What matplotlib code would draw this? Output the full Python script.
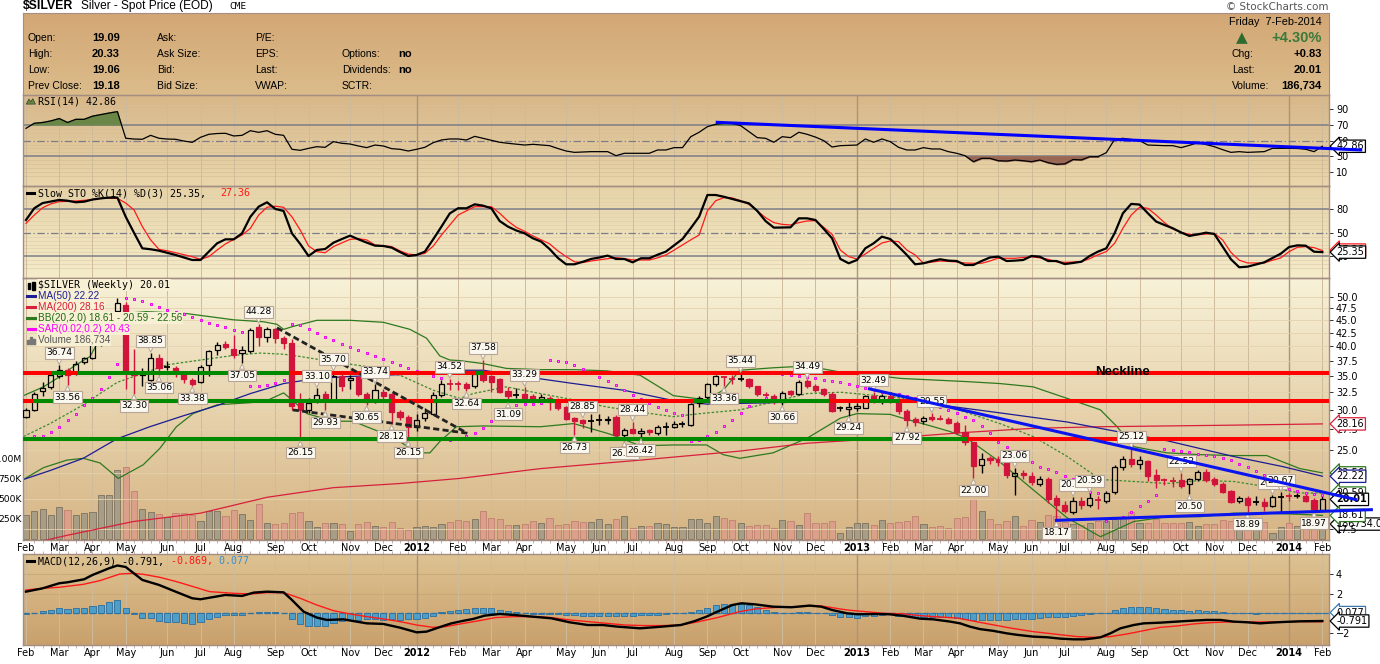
import numpy as np
import pandas as pd
import matplotlib
matplotlib.use("Agg")
import matplotlib.pyplot as plt
from matplotlib.colors import LinearSegmentedColormap
from matplotlib.lines import Line2D
from matplotlib.patches import Rectangle, Polygon
from matplotlib.transforms import blended_transform_factory

# ---------------- data (weekly, 11-Feb-2011 .. 7-Feb-2014) ----------------
weeks = pd.date_range("2011-02-11", periods=157, freq="7D")
prior_close = 29.2

opens = [29.1, 30.0, 32.7, 33.3, 34.9, 35.9, 35.6, 37.3, 37.9, 40.5, 42.8, 46.9, 48.2, 35.7, 35.2, 34.4, 37.9, 36.3, 36.3, 35.4,
         34.4, 34.1, 36.7, 39.3, 40.5, 39.6, 38.8, 39.1, 43.7, 41.8, 43.3, 41.6, 40.7, 30.9, 30.0, 31.4, 32.2, 31.4, 34.9, 34.3,
         34.8, 32.3, 31.3, 32.6, 32.2, 29.7, 29.1, 27.8, 28.9, 29.5, 32.1, 33.9, 33.8, 33.7, 33.4, 35.5, 34.9, 34.5, 32.7, 32.1,
         32.3, 31.9, 31.5, 31.7, 31.4, 30.4, 28.9, 28.7, 28.5, 28.6, 28.6, 29.1, 26.8, 27.5, 27.0, 27.4, 27.0, 27.7, 27.8, 28.1,
         28.0, 30.9, 31.8, 33.7, 34.8, 34.6, 34.5, 34.5, 33.4, 32.1, 31.9, 31.1, 32.7, 32.3, 34.2, 33.5, 33.0, 32.3, 30.25, 30.1,
         30.3, 30.3, 32.0, 31.2, 32.0, 31.5, 29.8, 28.8, 28.5, 29.1, 28.9, 28.8, 28.3, 27.2, 25.9, 23.4, 24.1, 24.0, 23.7, 22.2,
         22.5, 22.2, 21.5, 21.9, 20.1, 19.5, 18.9, 19.9, 19.5, 20.0, 19.9, 20.7, 23.2, 24.0, 23.5, 23.8, 22.3, 21.85, 21.8, 21.8,
         21.5, 21.9, 22.6, 21.9, 21.5, 20.8, 19.9, 20.1, 19.7, 19.8, 19.4, 20.2, 20.3, 20.3, 20.3, 19.95, 19.09]
highs = [30.3, 32.6, 34.0, 35.4, 36.74, 36.2, 37.4, 38.2, 41.0, 43.0, 46.8, 49.8, 48.8, 39.5, 36.2, 38.85, 38.6, 37.4, 36.6, 35.8,
         34.6, 36.8, 39.4, 40.8, 41.0, 42.2, 40.0, 43.4, 44.28, 43.7, 43.4, 42.0, 41.3, 32.4, 31.6, 33.10, 32.7, 35.70, 35.4, 35.2,
         35.0, 32.6, 33.74, 33.0, 32.4, 30.0, 29.3, 29.5, 30.2, 32.5, 34.3, 34.52, 34.2, 34.0, 35.6, 37.58, 35.2, 34.7, 33.3, 33.2,
         33.29, 32.3, 32.2, 31.9, 31.6, 30.6, 29.1, 28.85, 29.4, 29.4, 29.2, 29.3, 27.6, 28.44, 27.6, 27.5, 28.0, 28.4, 28.5, 28.5,
         31.0, 31.9, 33.9, 35.2, 35.0, 35.1, 35.44, 34.6, 33.5, 32.5, 32.3, 32.7, 32.9, 34.3, 34.49, 33.8, 33.2, 32.5, 30.6, 31.2,
         31.0, 32.1, 32.49, 32.2, 32.3, 31.6, 30.1, 29.1, 29.2, 29.55, 29.3, 29.0, 28.5, 28.0, 26.0, 24.7, 24.3, 24.4, 23.9, 23.06,
         22.9, 22.6, 22.2, 22.1, 20.4, 19.9, 20.23, 20.2, 20.59, 20.3, 20.8, 23.4, 24.3, 25.12, 24.4, 23.9, 23.0, 22.0, 22.1, 22.52,
         22.0, 22.9, 23.0, 22.1, 21.6, 20.9, 20.3, 20.3, 20.3, 20.1, 20.40, 20.67, 20.6, 20.6, 20.5, 20.1, 20.33]
lows = [28.9, 29.9, 32.0, 33.0, 34.6, 33.56, 35.2, 36.9, 37.8, 40.0, 42.5, 46.0, 33.0, 32.30, 33.4, 34.2, 35.06, 35.9, 34.8, 33.9,
        33.38, 33.9, 34.9, 38.5, 39.5, 37.9, 37.05, 38.8, 40.1, 40.8, 40.6, 39.5, 30.0, 26.15, 29.6, 30.9, 29.93, 31.2, 32.7, 33.0,
        31.9, 30.65, 31.0, 31.5, 28.12, 28.7, 26.15, 27.3, 28.5, 29.3, 31.8, 32.9, 32.9, 32.64, 33.2, 34.1, 32.6, 32.4, 31.09, 31.6,
        30.9, 31.0, 31.2, 30.0, 30.0, 28.6, 26.73, 27.6, 27.2, 28.0, 28.2, 26.6, 26.07, 26.9, 26.42, 26.8, 26.8, 26.8, 27.6, 27.8,
        27.9, 30.4, 31.5, 33.5, 33.36, 33.8, 34.2, 33.2, 31.9, 31.6, 30.8, 30.66, 31.9, 32.1, 33.2, 32.5, 31.9, 29.7, 29.9, 29.24,
        29.9, 30.2, 31.0, 30.8, 31.0, 29.5, 27.92, 27.9, 28.2, 28.5, 28.6, 28.1, 26.9, 25.6, 22.00, 22.5, 23.5, 23.3, 22.0, 20.4,
        21.9, 21.4, 21.3, 19.7, 18.17, 18.8, 18.7, 19.2, 19.3, 19.2, 19.7, 20.5, 22.9, 23.2, 23.0, 21.7, 21.1, 21.4, 21.2, 21.1,
        20.50, 21.7, 21.6, 21.3, 20.6, 19.7, 19.7, 18.89, 19.5, 19.0, 19.3, 18.9, 19.9, 20.1, 19.8, 18.97, 19.06]
closes = [30.0, 32.3, 33.1, 35.1, 35.9, 35.2, 37.0, 37.9, 40.4, 42.8, 46.1, 48.6, 35.4, 35.2, 35.6, 37.9, 36.3, 36.4, 35.4, 34.5,
          33.7, 36.5, 39.1, 40.2, 39.9, 38.5, 39.3, 43.1, 41.8, 43.3, 41.5, 40.7, 30.6, 30.0, 31.0, 32.1, 31.3, 34.9, 33.4, 34.7,
          32.3, 31.1, 32.8, 32.0, 29.7, 29.1, 27.8, 28.7, 29.6, 32.1, 33.8, 33.7, 33.6, 33.2, 35.3, 34.4, 34.1, 32.6, 32.0, 32.2,
          31.7, 31.5, 31.8, 31.1, 30.2, 28.8, 28.5, 28.3, 28.6, 28.7, 28.8, 26.8, 27.4, 27.0, 27.3, 27.1, 27.8, 27.85, 28.2, 28.25,
          30.8, 31.6, 33.7, 34.9, 34.7, 34.5, 34.6, 33.4, 32.2, 32.0, 31.3, 32.4, 32.3, 34.1, 33.4, 32.9, 32.3, 29.9, 30.35, 30.4,
          30.6, 31.9, 31.3, 31.9, 31.4, 29.9, 28.7, 28.4, 28.9, 28.8, 28.75, 28.3, 27.2, 25.9, 23.3, 24.0, 23.9, 23.7, 22.3, 22.5,
          22.3, 21.6, 21.9, 20.0, 19.5, 19.0, 19.9, 19.5, 20.1, 19.9, 20.6, 23.2, 24.0, 23.5, 23.9, 22.2, 21.8, 21.75, 21.7, 21.3,
          21.9, 22.6, 21.8, 21.5, 20.7, 19.8, 20.1, 19.5, 19.8, 19.4, 20.2, 20.3, 20.25, 20.4, 19.9, 19.18, 20.01]
volume_k = [300, 350, 371, 300, 396, 362, 300, 321, 333, 550, 550, 862, 896, 604, 375, 333, 308, 279, 321, 329,
            300, 225, 350, 350, 287, 362, 308, 237, 433, 196, 183, 196, 321, 333, 225, 146, 204, 204, 183, 104,
            183, 208, 162, 146, 217, 133, 112, 146, 167, 146, 185, 208, 233, 225, 250, 354, 258, 250, 175, 175,
            187, 225, 196, 267, 175, 187, 225, 208, 208, 250, 183, 250, 287, 133, 162, 162, 196, 183, 146, 146,
            250, 250, 196, 287, 258, 237, 196, 167, 175, 175, 133, 237, 225, 175, 321, 196, 196, 229, 71, 154,
            196, 196, 175, 237, 204, 217, 225, 287, 187, 146, 167, 133, 258, 271, 496, 354, 250, 187, 229, 287,
            167, 237, 208, 300, 287, 208, 183, 175, 204, 229, 229, 258, 271, 342, 204, 204, 246, 204, 204, 196,
            208, 162, 183, 183, 237, 229, 133, 229, 146, 208, 71, 146, 196, 167, 196, 229, 187]
sar = [26.3, 26.6, 26.7, 27.2, 27.8, 28.7, 29.5, 30.7, 31.6, 33.0, 34.8, 37.0, 49.8, 49.6, 49.1, 48.4, 47.7, 47.1, 46.8, 46.3,
       45.6, 45.1, 44.5, 44.1, 43.6, 43.1, 42.6, 33.38, 33.4, 33.6, 33.9, 34.3, 44.28, 44.0, 43.3, 42.5, 41.8, 41.1, 40.4, 39.8,
       39.3, 38.8, 38.3, 37.8, 37.2, 36.7, 36.2, 35.8, 35.4, 35.0, 34.6, 26.15, 26.4, 26.7, 27.0, 27.6, 28.5, 29.4, 30.2, 30.7,
       30.8, 30.85, 30.9, 37.58, 37.5, 37.2, 36.7, 36.1, 35.4, 34.8, 34.2, 33.6, 32.8, 32.1, 31.5, 30.9, 30.4, 30.0, 29.6, 29.3,
       26.07, 26.2, 26.6, 27.2, 27.9, 28.7, 29.6, 30.5, 31.3, 31.6, 35.44, 35.3, 35.1, 34.9, 34.75, 34.6, 34.4, 34.2, 34.0, 33.7,
       33.4, 33.1, 32.9, 32.6, 32.4, 32.2, 32.0, 31.7, 31.4, 30.8, 30.4, 30.0, 29.6, 29.1, 28.7, 27.9, 27.0, 26.0, 25.4, 24.8,
       24.2, 23.7, 23.2, 23.0, 22.6, 22.2, 21.9, 21.0, 20.7, 20.6, 18.17, 18.4, 18.5, 18.9, 19.4, 19.9, 20.4, 25.12, 25.0, 24.9,
       24.8, 24.6, 24.5, 24.3, 24.1, 23.9, 23.5, 23.2, 22.8, 22.3, 21.9, 21.4, 21.0, 20.8, 20.6, 20.5, 20.43]
rsi = [65.6, 72, 73, 75, 78, 73, 77, 77, 81, 83, 85, 86.8, 53, 52, 51.7, 56.7, 53, 52, 51.7, 49.5,
       47.8, 54.2, 58, 59, 59.3, 55.9, 56.7, 62.6, 60.5, 62.6, 58, 56.7, 39, 37.7, 40.2, 42.3, 41.5, 48.7, 46.6, 45.7,
       43.2, 41.1, 44.4, 43.2, 39.8, 39, 36.8, 39, 41.5, 47.4, 50.8, 52.1, 52.1, 50.8, 55.4, 52.9, 50.5, 47.9, 46.6, 45.5,
       44.4, 45.3, 44.5, 43.6, 40, 36.8, 35.1, 35.5, 36.0, 36.0, 36.0, 30.9, 33.9, 33.9, 33.9, 33.9, 38.1, 38.1, 41.1, 41.1,
       55.0, 60.6, 67.7, 70.7, 71.9, 71.9, 69.0, 61.4, 53.8, 52.9, 47.9, 55.0, 53.8, 60.6, 58.0, 54.5, 50.0, 41.9, 43.6, 44.0,
       44.4, 52.1, 47.9, 52.1, 48.7, 41.5, 38.1, 38.1, 41.1, 39.4, 39.4, 36.0, 33.9, 30.9, 23.3, 27.5, 27.5, 24.5, 24.1, 25.4,
       24.5, 23.3, 25.4, 22.0, 19.9, 20.5, 26.0, 25.5, 29.6, 29.6, 34.7, 51.6, 52.9, 51.5, 50.0, 44.4, 44.0, 43.6, 43.6, 41.1,
       44.0, 47.4, 45.0, 42.3, 38.5, 35.1, 36.0, 35.1, 35.5, 36.0, 40.2, 40.2, 40.2, 40.0, 39.0, 36.0, 42.86]
sto_k = [66.4, 81.4, 88, 90, 92, 91, 89, 89.8, 92.5, 94, 95, 95, 70.5, 50, 30.2, 29.0, 27.2, 24.5, 21.7, 18.5,
         15.3, 15.3, 26.0, 36.6, 41.7, 41.7, 49.4, 70.5, 83.4, 89.0, 80.5, 77.9, 49.4, 35.8, 20.4, 28.1, 29.3, 37.4, 42.0, 46.4,
         41.7, 37.5, 33.6, 33.2, 31.1, 25.5, 20.4, 21.7, 26.0, 41.7, 58.0, 74.8, 81.4, 81.3, 86.4, 84.7, 81.3, 65.1, 57.9, 53.0,
         49.4, 43.0, 38.7, 29.4, 18.0, 9.8, 9.8, 13.0, 16.6, 18.5, 20.9, 16.6, 16.6, 12.3, 17.5, 17.5, 22.0, 26.0, 34.0, 42.1,
         56.0, 70.6, 98.3, 98.3, 96.0, 93.2, 90.5, 87.6, 78.0, 65.0, 56.6, 56.8, 57.0, 68.5, 68.5, 66.4, 55.0, 43.0, 16.6, 11.1,
         15.3, 30.2, 36.6, 45.1, 42.1, 32.4, 21.7, 9.8, 11.1, 14.0, 16.2, 14.5, 14.0, 8.9, 8.9, 14.0, 18.5, 19.6, 14.0, 14.5,
         15.3, 20.4, 19.5, 14.0, 14.0, 10.1, 11.5, 13.1, 20.4, 26.0, 30.2, 49.4, 75.0, 86.9, 86.1, 75.0, 64.4, 60.0, 55.8, 50.5,
         46.0, 48.0, 50.2, 48.5, 32.4, 16.2, 6.0, 6.8, 9.5, 12.3, 17.9, 23.4, 31.9, 34.0, 33.6, 25.9, 25.35]
sto_d = [62.1, 72.7, 82, 87, 89.8, 90.2, 90.7, 91.5, 92.5, 94, 94, 94, 88, 79.3, 58, 40.9, 28.9, 27, 24.6, 22,
         19.5, 16.2, 19.5, 28, 35.8, 41.5, 47.2, 55.7, 72.7, 82.6, 84, 82.6, 70.5, 53.6, 33.2, 26.0, 24.6, 32.4, 37, 41.7,
         42.5, 40.9, 34.5, 33.5, 32.4, 27, 22.9, 21.7, 23.8, 33, 47.2, 60, 72.7, 78, 83.4, 83.4, 83.4, 75, 65, 57,
         52, 46, 41, 36, 27, 19.6, 13, 12, 14.0, 15.5, 17, 18.3, 17, 15.5, 15.3, 15.3, 18, 21.7, 28, 34.5,
         41, 47.2, 78, 91, 95, 94.5, 91, 86.4, 78, 69.4, 63, 60.8, 60.0, 63, 65.1, 65.5, 57, 48.1, 28, 19.6,
         16.6, 23, 30.2, 37, 39.6, 38.7, 28, 21.7, 11.1, 12.5, 14.0, 13.5, 12.8, 11.5, 11.1, 11.1, 14, 17.7, 17.5, 17.5,
         18.5, 19.5, 18, 16.2, 13, 12.3, 12.7, 13.1, 17, 22, 26.0, 36.6, 55.8, 72.7, 82.6, 81.3, 72.7, 63, 55, 50.6,
         48, 47.5, 48.5, 49.4, 40.9, 25, 15, 11.5, 11.5, 11.5, 15, 18, 26.0, 31.5, 32.4, 31.1, 27.36]
macd_hist = [-0.07, 0, 0.24, 0.34, 0.51, 0.41, 0.51, 0.51, 0.75, 0.85, 1.2, 1.37, 0.51, -0.07, -0.51, -0.51, -0.75, -0.85, -0.85, -1.03,
             -1.09, -0.85, -0.62, -0.41, -0.17, -0.17, -0.17, 0.07, 0.1, 0.14, 0.14, 0.03, -0.62, -1.13, -1.3, -1.3, -1.3, -0.96, -0.79, -0.68,
             -0.68, -0.62, -0.62, -0.68, -0.62, -0.68, -0.62, -0.62, -0.51, -0.27, 0.17, 0.27, 0.35, 0.48, 0.58, 0.58, 0.58, 0.38, 0.24, 0.17,
             0.03, -0.03, -0.05, -0.07, -0.1, -0.14, -0.2, -0.3, -0.3, -0.3, -0.27, -0.27, -0.27, -0.24, -0.2, -0.2, -0.14, -0.03, 0, 0.03,
             0.1, 0.31, 0.55, 0.82, 0.92, 0.99, 0.99, 0.89, 0.65, 0.38, 0.14, 0.03, 0.0, 0.1, 0.14, 0.05, 0, -0.2, -0.38, -0.34,
             -0.48, -0.31, -0.24, -0.17, -0.1, -0.24, -0.3, -0.34, -0.34, -0.36, -0.38, -0.41, -0.48, -0.55, -0.68, -0.68, -0.68, -0.68, -0.68, -0.62,
             -0.58, -0.58, -0.48, -0.41, -0.41, -0.41, -0.27, -0.2, -0.07, 0, 0.03, 0.34, 0.55, 0.68, 0.68, 0.68, 0.55, 0.44, 0.34, 0.34,
             0.24, 0.34, 0.27, 0.27, 0.17, 0.03, 0, 0, -0.07, 0, 0.03, 0.07, 0.07, 0.07, 0.07, 0.07, 0.077]

# smooth indicator lines, read as (week index, value) points
ma50_wk = [-0.3, 2.9, 6.9, 10.9, 14.9, 18.9, 23, 27, 31, 35, 39, 45, 52.2, 55, 59.9, 65.9, 71.9, 77.9, 81.9, 89.9, 98, 104,
           109.2, 117.2, 125.3, 131.3, 137.3, 145.3, 151.3, 156]
ma50_val = [21.9, 22.8, 24.1, 26.3, 27.8, 29.2, 30.6, 32.3, 33.8, 34.6, 34.9, 35.2, 35.9, 35.9, 34.9, 33.8, 32.8, 31.3, 30.8, 31.0,
            31.4, 31.4, 30.8, 29.6, 28.4, 27.2, 26.1, 24.3, 23.2, 22.22]
ma200_wk = [-0.4, 2.1, 4.9, 12.9, 21, 29, 37, 45, 52.2, 61.9, 73.9, 85.9, 94, 105.2, 113.2, 121.2, 129.3, 137.3, 145.3, 156]
ma200_val = [16.1, 16.6, 17.0, 18.1, 18.8, 20.2, 21.1, 21.5, 22.0, 23.0, 23.9, 24.9, 25.8, 26.5, 27.1, 27.6, 27.8, 27.9, 28.0, 28.16]
bbu_wk = [-0.3, 2.1, 4.1, 5.7, 7.7, 8.5, 10, 11.7, 14.5, 19.3, 25, 28.6, 30.2, 31, 32.2, 35, 39, 43, 46.2, 48.2, 49.8, 51, 52.2,
          55, 57.8, 61.9, 65.9, 69.9, 73.9, 77.9, 81.9, 83.9, 85.9, 89.9, 94, 98, 102, 105.2, 113.2, 117.2, 121.2, 125.3, 129.3,
          131.3, 133.3, 137.3, 141.3, 145.3, 149.3, 153.3, 156]
bbu_val = [32.0, 33.3, 34.9, 36.5, 38.2, 40.3, 45.0, 46.4, 46.8, 46.4, 45.1, 44.7, 44.2, 43.2, 43.8, 45.0, 45.0, 44.6, 43.2, 41.5,
           38.3, 37.6, 37.5, 37.0, 36.2, 36.0, 36.0, 35.8, 35.1, 32.0, 31.4, 32.8, 35.9, 36.3, 36.6, 35.6, 35.1, 34.6, 34.1, 33.8,
           33.3, 31.6, 30.0, 27.8, 25.4, 24.7, 24.5, 24.4, 24.4, 23.0, 22.56]
bbl_wk = [-0.3, 2.1, 4.9, 6.9, 8.9, 11.1, 14.1, 16.1, 18.1, 20.1, 23, 27, 29, 31, 32.2, 33.8, 37, 39.4, 41, 43, 45, 47, 48.6,
          49.8, 51.8, 55, 61.9, 65.9, 69.9, 71.1, 73.9, 77.9, 81.9, 83.9, 85.9, 89.9, 94, 98, 100, 104, 105.2, 109.2, 111.2, 113.2,
          117.2, 121.2, 125.3, 129.3, 133.3, 137.3, 141.3, 145.3, 149.3, 153.3, 156]
bbl_val = [21.9, 23.1, 23.9, 24.1, 23.6, 22.0, 23.4, 25.2, 27.8, 29.5, 30.7, 31.0, 31.3, 32.4, 31.2, 29.5, 28.5, 28.5, 27.8, 27.0,
           26.0, 24.7, 24.7, 26.0, 27.8, 27.9, 27.8, 28.2, 27.0, 26.6, 25.5, 25.6, 25.6, 24.5, 24.1, 24.7, 26.4, 28.9, 29.5, 29.4,
           29.0, 27.8, 27.2, 26.4, 23.7, 20.9, 18.4, 16.9, 18.1, 18.5, 18.5, 18.8, 18.8, 18.7, 18.61]
bbm_wk = [-0.3, 2.9, 6.9, 8.9, 11, 14.5, 17, 21, 25, 28.2, 31, 33, 37, 41, 45, 49, 52.2, 53.8, 57.8, 61.9, 65.9, 69.9, 73.9,
          77.9, 81.1, 85.9, 89.9, 94, 98, 105.2, 111.2, 117.2, 121.2, 125.3, 129.3, 133.3, 137.3, 141.3, 145.3, 149.3, 153.3, 156]
bbm_val = [26.6, 28.2, 30.7, 32.3, 34.0, 35.6, 36.8, 37.6, 38.4, 38.8, 38.6, 38.2, 37.3, 36.5, 35.1, 32.8, 31.6, 32.3, 33.3, 32.3,
           31.4, 30.4, 29.7, 29.1, 29.5, 30.0, 31.1, 32.3, 32.5, 31.7, 30.4, 28.2, 26.6, 24.3, 21.9, 21.7, 21.5, 21.8, 21.7, 21.2,
           20.6, 20.59]
macd_wk = [0, 2, 4, 5, 7, 8, 9, 10, 11, 12, 14, 16, 18, 20, 21, 24, 26, 27.4, 29, 31, 32, 33.4, 35, 36.2, 38.2, 41, 43, 45, 47,
           48.2, 50.2, 51.2, 52.5, 53.8, 55.2, 57, 58.7, 60.9, 63.2, 65.4, 67.6, 69.4, 71.2, 73.9, 76.5, 78.8, 80.5, 81.9, 83.2,
           85, 86.1, 87.7, 89.9, 92.1, 94.3, 95.7, 97, 98.8, 100.1, 102.4, 103.9, 105.5, 107.6, 109.2, 111.2, 112.4, 113.6, 114.8,
           116.4, 118, 119.2, 121.2, 122.9, 124.5, 126.1, 127.3, 128.5, 129.3, 130.5, 131.7, 133.3, 134.5, 136.5, 138.5, 140.5,
           142.1, 143.7, 145.3, 146.9, 148.5, 149.7, 151.3, 153.3, 156]
macd_val = [2.22, 2.56, 3.08, 3.18, 3.49, 3.93, 4.27, 4.62, 4.9, 4.75, 3.42, 2.91, 2.22, 1.54, 1.44, 1.88, 1.78, 2.12, 2.22, 2.15,
            1.37, 0.17, -0.44, -0.68, -0.62, -1.03, -1.09, -1.47, -1.95, -1.88, -1.3, -1.03, -0.79, -0.58, -0.24, -0.07, -0.17,
            -0.34, -0.51, -0.92, -1.2, -1.2, -1.37, -1.54, -1.37, -1.2, -0.79, -0.34, 0.17, 0.85, 1.03, 0.92, 0.68, 0.62, 0.79,
            0.68, 0.34, 0, -0.1, -0.07, -0.1, -0.25, -0.55, -0.62, -0.85, -1.03, -1.37, -1.62, -1.8, -2.05, -2.2, -2.39, -2.46,
            -2.6, -2.67, -2.67, -2.56, -2.46, -2.05, -1.54, -1.2, -1.03, -0.96, -0.85, -0.75, -0.68, -0.68, -0.85, -0.92, -1.03,
            -0.96, -0.89, -0.82, -0.791]
signal_wk = [0, 2, 4, 6.9, 8.9, 11.3, 12.9, 14.1, 16.1, 18.1, 20.1, 22.1, 25, 27, 29, 31, 33, 35, 37, 39, 41, 43, 45, 47, 49,
             50.5, 52, 54.3, 56.5, 58.7, 61.4, 63.2, 65.4, 67.6, 69.9, 72.1, 74.3, 76.5, 78.8, 81, 83.2, 85.9, 87.7, 89.9, 92.1,
             94.3, 95.7, 97, 98.8, 101, 103.2, 105.5, 107.7, 110, 112.2, 114.6, 116.5, 118.4, 121.2, 123.7, 126.5, 128.5, 130.5,
             132.5, 134.5, 136.5, 138.5, 140.5, 142.5, 144.5, 146.9, 149.3, 151.3, 153.3, 156]
signal_val = [2.39, 2.56, 2.67, 2.97, 3.35, 4.03, 4.10, 4.0, 3.69, 3.25, 2.74, 2.22, 2.05, 1.98, 2.12, 2.12, 1.54, 0.85, 0.27,
              -0.07, -0.34, -0.58, -0.85, -1.2, -1.44, -1.37, -1.13, -0.79, -0.44, -0.34, -0.34, -0.44, -0.68, -0.85, -1.03, -1.2,
              -1.26, -1.26, -1.2, -0.85, -0.44, 0.17, 0.44, 0.58, 0.65, 0.75, 0.75, 0.58, 0.34, 0.17, 0, -0.05, -0.25, -0.38, -0.5,
              -0.9, -1.2, -1.5, -1.88, -2.12, -2.39, -2.46, -2.39, -2.12, -1.78, -1.44, -1.3, -1.09, -0.96, -0.89, -0.89, -0.89,
              -0.89, -0.85, -0.869]

# price labels on swing highs / lows: (week, value, above?)
swing_labels = [(4, 36.74, True), (15, 38.85, True), (28, 44.28, True), (35, 33.10, True), (37, 35.70, True), (42, 33.74, True),
                (51, 34.52, True), (55, 37.58, True), (60, 33.29, True), (67, 28.85, True), (73, 28.44, True), (86, 35.44, True),
                (94, 34.49, True), (102, 32.49, True), (109, 29.55, True), (119, 23.06, True), (126, 20.23, True), (128, 20.59, True),
                (133, 25.12, True), (139, 22.52, True), (150, 20.40, True), (151, 20.67, True),
                (5, 33.56, False), (13, 32.30, False), (16, 35.06, False), (20, 33.38, False), (26, 37.05, False), (33, 26.15, False),
                (36, 29.93, False), (41, 30.65, False), (44, 28.12, False), (46, 26.15, False), (53, 32.64, False), (58, 31.09, False),
                (66, 26.73, False), (72, 26.07, False), (74, 26.42, False), (84, 33.36, False), (91, 30.66, False), (99, 29.24, False),
                (106, 27.92, False), (114, 22.00, False), (124, 18.17, False), (140, 20.50, False), (147, 18.89, False), (155, 18.97, False)]

# hand-drawn annotation lines
level_prices = [35.5, 31.2, 26.3]
green_spans = [[(3.1, 4.7), (6.1, 31.8), (54.0, 55.0)],
               [(0.9, 44.0), (49.0, 63.7), (80.3, 96.8), (101.6, 105.2)],
               [(-0.4, 113.2)]]
rsi_trend = ([83.0, 160.8], [73.3, 38.1])
upper_trend = ([101.5, 160.0], [33.0, 20.0])
lower_trend = ([124.0, 161.9], [18.2, 19.1])
dash_a = ([30.2, 53.1], [43.5, 27.0])
dash_b = ([32.1, 53.1], [30.0, 27.0])

# ---------------- layout ----------------
W, H = 1380.0, 664.0
XL, XR = 23, 1329
x_lo, x_hi = -0.36, 156.8
idx = np.arange(len(closes))

fig = plt.figure(figsize=(W / 100, H / 100), dpi=100, facecolor="white")
SANS = "Liberation Sans"
MONO = "DejaVu Sans Mono"
BORDER = "#a48e82"
RED = "#d2143c"


def rect(y0, y1, x0=XL, x1=XR):
    return [x0 / W, 1 - y1 / H, (x1 - x0) / W, (y1 - y0) / H]


def gradient(y0, y1, top, bot):
    a = fig.add_axes(rect(y0, y1), zorder=0)
    cm = LinearSegmentedColormap.from_list("bg", [bot, top])
    a.imshow(np.linspace(0, 1, 256)[:, None], cmap=cm, origin="lower", aspect="auto", extent=[0, 1, 0, 1])
    a.set_xlim(0, 1)
    a.set_ylim(0, 1)
    a.axis("off")
    return a


def panel(y0, y1, z=2):
    a = fig.add_axes(rect(y0, y1), zorder=z)
    a.patch.set_alpha(0)
    a.set_xlim(x_lo, x_hi)
    for s in a.spines.values():
        s.set_color(BORDER)
        s.set_linewidth(1)
    a.yaxis.tick_right()
    a.tick_params(axis="y", which="both", length=3, width=0.7, labelsize=7, pad=2, color="#333333")
    a.tick_params(axis="x", which="both", bottom=False, top=False, labelbottom=False)
    return a


def px(x, y):
    return x / W, 1 - y / H


def T(x, y, s, **kw):
    kw.setdefault("va", "center")
    fig.text(*px(x, y), s, **kw)


# month ticks: bar whose Monday falls in a new month
mondays = weeks - pd.Timedelta(days=4)
tick_idx, tick_lab = [], []
prev_m = None
for k, d in enumerate(mondays):
    if d.month != prev_m:
        tick_idx.append(k)
        tick_lab.append(str(d.year) if d.month == 1 else d.strftime("%b"))
    prev_m = d.month


def vgrid(a):
    for k, lab in zip(tick_idx, tick_lab):
        yr = lab.isdigit()
        a.axvline(k, color="#a8967c" if yr else "#cdbb9c", lw=1.0 if yr else 0.7, zorder=0.3)


# ---------------- header ----------------
gradient(13, 95, "#d2a775", "#dcbc8b")
hb = fig.add_axes(rect(13, 95), zorder=1)
hb.patch.set_alpha(0)
hb.set_xticks([])
hb.set_yticks([])
for s in hb.spines.values():
    s.set_color(BORDER)

T(23, 6, "$SILVER", fontsize=8.8, fontweight="bold", family=SANS)
T(81, 6.5, "Silver - Spot Price (EOD)", fontsize=8.6, family=SANS)
T(229, 6.5, "CME", fontsize=6.8, family=MONO)
T(1329, 6.5, "\u00a9 StockCharts.com", fontsize=7.5, family="DejaVu Sans", ha="right", color="#555555")

for col_x, rows in [(28, ["Open:", "High:", "Low:", "Prev Close:"]),
                    (157, ["Ask:", "Ask Size:", "Bid:", "Bid Size:"]),
                    (255, ["P/E:", "EPS:", "Last:", "VWAP:"])]:
    for r, s in enumerate(rows):
        T(col_x, 38 + 16 * r, s, fontsize=7.5, family=SANS)
for r, s in enumerate(["19.09", "20.33", "19.06", "19.18"]):
    T(120, 38 + 16 * r, s, fontsize=8, family=SANS, fontweight="bold", ha="right")
T(342, 54, "Options:", fontsize=7.5, family=SANS)
T(342, 70, "Dividends:", fontsize=7.5, family=SANS)
T(342, 86, "SCTR:", fontsize=7.5, family=SANS)
T(398, 54, "no", fontsize=8, family=SANS, fontweight="bold")
T(398, 70, "no", fontsize=8, family=SANS, fontweight="bold")

T(1322, 22, "Friday  7-Feb-2014", fontsize=7.8, family=SANS, ha="right")
T(1242, 38, "\u25b2", fontsize=11, color="#2f6b2f", ha="center", family="DejaVu Sans")
T(1322, 38, "+4.30%", fontsize=10.5, family=SANS, fontweight="bold", ha="right", color="#3a7a3a")
for r, (a_, b_) in enumerate([("Chg:", "+0.83"), ("Last:", "20.01"), ("Volume:", "186,734")]):
    T(1232, 54 + 16 * r, a_, fontsize=7.5, family=SANS)
    T(1322, 54 + 16 * r, b_, fontsize=8, family=SANS, fontweight="bold", ha="right")


def tag(a, y, s, ec, bold=False, fc="white", coords="data"):
    a.annotate(s, xy=(1.0, y), xycoords=("axes fraction", coords), xytext=(5.5, 0), textcoords="offset points",
               ha="left", va="center", fontsize=7, family="DejaVu Sans", fontweight="bold" if bold else "normal",
               bbox=dict(boxstyle="larrow,pad=0.12", fc=fc, ec=ec, lw=0.9), annotation_clip=False, zorder=30)


# ---------------- RSI ----------------
gradient(95, 186, "#d8b687", "#e9d6ab")
ax_rsi = panel(95, 186)
ax_rsi.set_ylim(-7.6, 107.9)
vgrid(ax_rsi)
for v in range(5, 100, 5):
    if v not in (30, 50, 70):
        ax_rsi.axhline(v, color="#d6c09a", lw=0.5, zorder=0.2)
ax_rsi.axhline(70, color="#7d7d8a", lw=1.1, zorder=0.5)
ax_rsi.axhline(30, color="#7d7d8a", lw=1.1, zorder=0.5)
ax_rsi.axhline(50, color="#7d7d8a", lw=0.9, ls=(0, (6, 2, 1, 2)), zorder=0.5)
rsi_a = np.array(rsi)
ax_rsi.fill_between(idx, rsi_a, 70, where=rsi_a > 70, interpolate=True, color="#6b8748", zorder=1)
ax_rsi.fill_between(idx, rsi_a, 30, where=rsi_a < 30, interpolate=True, color="#9a6754", zorder=1)
ax_rsi.plot(idx, rsi_a, color="black", lw=0.9, zorder=2)
ax_rsi.set_yticks([10, 30, 50, 70, 90])
ax_rsi.plot(*rsi_trend, color="#0000ff", lw=2.2, zorder=40, clip_on=False, solid_capstyle="butt")
tag(ax_rsi, 42.86, "42.86", "black")
ax_rsi.add_patch(Polygon([[0.0025, 0.90], [0.0045, 0.955], [0.006, 0.925], [0.0075, 0.96], [0.0095, 0.90]],
                         closed=True, transform=ax_rsi.transAxes, fc="#6b8748", ec="#2f4020", lw=0.5, zorder=5))

# ---------------- Slow stochastic ----------------
gradient(186, 278, "#e6d2a6", "#f5ecca")
ax_sto = panel(186, 278)
ax_sto.set_ylim(-7.7, 109.8)
vgrid(ax_sto)
for v in range(5, 105, 5):
    if v not in (20, 50, 80):
        ax_sto.axhline(v, color="#e0d0ae", lw=0.5, zorder=0.2)
ax_sto.axhline(80, color="#7d7d8a", lw=1.1, zorder=0.5)
ax_sto.axhline(20, color="#7d7d8a", lw=1.1, zorder=0.5)
ax_sto.axhline(50, color="#7d7d8a", lw=0.9, ls=(0, (6, 2, 1, 2)), zorder=0.5)
ax_sto.plot(idx, sto_d, color="#ff1a1a", lw=0.9, zorder=2)
ax_sto.plot(idx, sto_k, color="black", lw=1.6, zorder=3)
ax_sto.set_yticks([20, 50, 80])
tag(ax_sto, 28.0, "27.36", "#ff1a1a")
tag(ax_sto, 25.35, "25.35", "black")

# ---------------- price + volume ----------------
gradient(278, 540, "#f8f2d8", "#d6b483")
ax_vol = fig.add_axes(rect(278, 540), zorder=1)
ax_vol.patch.set_alpha(0)
ax_vol.set_xlim(x_lo, x_hi)
ax_vol.set_ylim(-12500, 3262500)
ax_vol.axis("off")
vgrid(ax_vol)

ax = panel(278, 540, z=2)
ax.set_yscale("log")
ax.set_ylim(16.65, 54.5)
pticks = [17.5 + 2.5 * k for k in range(14)]
ax.set_yticks(pticks)
ax.set_yticklabels(["%.1f" % p for p in pticks])
ax.minorticks_off()
ax.tick_params(axis="x", which="both", bottom=False, top=False)
for p in pticks:
    ax.axhline(p, color="#e3d2ae", lw=0.6, zorder=0.2)

vol = np.array(volume_k) * 1000.0
cl = np.array(closes)
prev_close = np.concatenate([[prior_close], cl[:-1]])
down = cl < prev_close
ax_vol.bar(idx, vol, width=0.74, color=np.where(down, "#dba08c", "#a89d86"),
           edgecolor=np.where(down, "#c0806e", "#7c725f"), lw=0.6, zorder=1)
for lab, v in [("1.00M", 1e6), ("750K", 7.5e5), ("500K", 5e5), ("250K", 2.5e5)]:
    ax_vol.annotate(lab, xy=(0, v), xycoords=("axes fraction", "data"), xytext=(-0.8, 0), textcoords="offset points",
                    ha="right", va="center", fontsize=6.6, family="DejaVu Sans", annotation_clip=False)

ax.plot(bbu_wk, bbu_val, color="#2d7a1f", lw=0.9, zorder=2)
ax.plot(bbl_wk, bbl_val, color="#2d7a1f", lw=0.9, zorder=2)
ax.plot(bbm_wk, bbm_val, color="#3d8a2f", lw=0.9, ls=(0, (2, 1.5)), zorder=2)
ax.plot(ma200_wk, ma200_val, color="#d8203c", lw=0.9, zorder=2)
ax.plot(ma50_wk, ma50_val, color="#1c1c94", lw=0.9, zorder=2)

# candles
for k in idx:
    o, h, l, c = opens[k], highs[k], lows[k], closes[k]
    col = RED if down[k] else "black"
    top, bot = max(o, c), min(o, c)
    if top / bot < 1.006:
        ax.vlines(k, l, h, color=col, lw=1.0, zorder=3)
        ax.hlines((top * bot) ** 0.5, k - 0.36, k + 0.36, color=col, lw=1.3, zorder=3)
        continue
    ax.vlines(k, top, h, color=col, lw=1.0, zorder=3)
    ax.vlines(k, l, bot, color=col, lw=1.0, zorder=3)
    ax.bar(k, top - bot, bottom=bot, width=0.62, facecolor=col if c < o else "none",
           edgecolor=col, lw=0.9, zorder=3.2)

ax.plot(idx, sar, ls="none", marker="s", ms=2.1, mfc="#ff8cff", mec="#f000f0", mew=0.7, zorder=3.5)

# drawn horizontal lines
for lev, spans in zip(level_prices, green_spans):
    ax.hlines(lev, x_lo, x_hi, color="#ff0000", lw=2.9, zorder=4)
    for a_, b_ in spans:
        ax.hlines(lev, max(a_, x_lo), b_, color="#008a00", lw=2.9, zorder=4.1)
ax.plot(*dash_a, color="#222222", lw=2.0, ls=(0, (2.2, 1.2)), zorder=4.2)
ax.plot(*dash_b, color="#222222", lw=2.0, ls=(0, (2.2, 1.2)), zorder=4.2)
ax.plot(*upper_trend, color="#0a14f0", lw=2.2, zorder=40, clip_on=False)
ax.plot(*lower_trend, color="#0a14f0", lw=2.2, zorder=40, clip_on=False)
ax.text(132, 35.6, "Neckline", fontsize=9.5, fontweight="bold", family=SANS, ha="center", va="center", zorder=6)

for k, v, above in swing_labels:
    ax.annotate("%.2f" % v, xy=(k, v), xytext=(0, 5.5 if above else -5.5), textcoords="offset points",
                ha="center", va="bottom" if above else "top", fontsize=6.6, family="DejaVu Sans",
                bbox=dict(boxstyle="square,pad=0.15", fc="#fbf8ef", ec="#b7a597", lw=0.8),
                arrowprops=dict(arrowstyle="wedge,tail_width=0.55,shrink_factor=0.5", fc="#fbf8ef", ec="#b7a597",
                                lw=0.7, shrinkA=0, shrinkB=0.5),
                zorder=7)

# right-edge value tags
tag(ax_vol, 186734, "186734.0", "black", coords="data")
tag(ax, 28.16, "28.16", "#d8203c")
tag(ax, 22.56, "22.56", "#2d7a1f")
tag(ax, 22.22, "22.22", "#1c1c94")
tag(ax, 20.59, "20.59", "#2d7a1f")
tag(ax, 20.01, "20.01", "black", bold=True)
tag(ax, 18.61, "18.61", "#2d7a1f")

# x labels under price panel
xt = blended_transform_factory(ax.transData, ax.transAxes)
for k, lab in zip(tick_idx, tick_lab):
    ax.text(k, -0.012, lab, transform=xt, ha="center", va="top", fontsize=7, family="DejaVu Sans",
            fontweight="bold" if lab.isdigit() else "normal", clip_on=False)
ax.set_xticks(idx, minor=True)
ax.tick_params(axis="x", which="minor", bottom=True, length=2, width=0.6, color="#b8a0a0")

# legend of the price panel
leg_bg = "#f7f0d4"
rows = [("$SILVER (Weekly) 20.01", "black", MONO),
        ("MA(50) 22.22", "#1c1c94", SANS),
        ("MA(200) 28.16", "#d8203c", SANS),
        ("BB(20,2.0) 18.61 - 20.59 - 22.56", "#1f6a14", SANS),
        ("SAR(0.02,0.2) 20.43", "#ff00ff", SANS),
        ("Volume 186,734", "#555555", SANS)]
for r, (s, c, fam) in enumerate(rows):
    y = 285 + 11 * r
    fig.text(*px(38, y), s, color=c, family=fam, fontsize=7.2, va="center", zorder=10,
             bbox=dict(boxstyle="square,pad=0.08", fc=leg_bg, ec="none"))
for r, c in [(1, "#1c1c94"), (2, "#d8203c"), (3, "#2d7a1f")]:
    y = 285 + 11 * r
    fig.add_artist(Line2D([27 / W, 35 / W], [1 - y / H] * 2, color=c, lw=2.2, zorder=10))
fig.add_artist(Line2D([28 / W, 31 / W], [1 - 329 / H] * 2, color="#ff00ff", lw=2.2, zorder=10))
fig.add_artist(Line2D([33 / W, 36 / W], [1 - 329 / H] * 2, color="#ff00ff", lw=2.2, zorder=10))
for j, hh in enumerate([4, 7, 5]):
    fig.add_artist(Rectangle(((27 + 3 * j) / W, 1 - 344 / H), 2 / W, hh / H, color="#777777", zorder=10))
for j, (hh, bb) in enumerate([(6, 286), (8, 287)]):
    fig.add_artist(Rectangle(((28 + 4 * j) / W, 1 - (bb + 3) / H), 2.5 / W, hh / H, color="black", zorder=10))

# RSI / STO legends
fig.text(*px(38, 101), "RSI(14) 42.86", family=MONO, fontsize=7.2, va="center", zorder=10)
fig.add_artist(Line2D([27 / W, 34 / W], [1 - 193 / H] * 2, color="black", lw=2.2, zorder=10))
fig.text(*px(38, 193), "Slow STO %K(14) %D(3) 25.35,", family=MONO, fontsize=7.2, va="center", zorder=10)
fig.text(*px(220, 193), "27.36", family=MONO, fontsize=7.2, va="center", color="#ff1a1a", zorder=10)

# ---------------- MACD ----------------
gradient(554, 645, "#dec392", "#c9a06c")
ax_m = panel(554, 645)
ax_m.set_ylim(-3.25, 6.08)
vgrid(ax_m)
for v in (-2, 2, 4):
    ax_m.axhline(v, color="#c4a67a", lw=0.6, zorder=0.2)
ax_m.axhline(0, color="#3a78b0", lw=1.0, ls=(0, (4, 2)), zorder=0.6)
ax_m.bar(idx, macd_hist, width=0.74, color="#4d9ec9", edgecolor="#2c6f9e", lw=0.6, zorder=1)
ax_m.plot(signal_wk, signal_val, color="#ff1a1a", lw=1.0, zorder=2)
ax_m.plot(macd_wk, macd_val, color="black", lw=1.7, zorder=3)
ax_m.set_yticks([-2, 2, 4])
tag(ax_m, 0.077, "0.077", "#3a78b0")
tag(ax_m, -0.791, "-0.791", "black")
ax_m.set_xticks(idx, minor=True)
ax_m.tick_params(axis="x", which="minor", bottom=True, top=True, length=2, width=0.6, color="#b8a0a0")
xt2 = blended_transform_factory(ax_m.transData, ax_m.transAxes)
for k, lab in zip(tick_idx, tick_lab):
    ax_m.text(k, -0.03, lab, transform=xt2, ha="center", va="top", fontsize=7, family="DejaVu Sans",
              fontweight="bold" if lab.isdigit() else "normal", clip_on=False)
fig.add_artist(Line2D([27 / W, 34 / W], [1 - 561 / H] * 2, color="black", lw=2.2, zorder=10))
fig.text(*px(38, 561), "MACD(12,26,9) -0.791,", family=MONO, fontsize=7.2, va="center", zorder=10)
fig.text(*px(165, 561), " -0.869,", family=MONO, fontsize=7.2, va="center", color="#ff1a1a", zorder=10)
fig.text(*px(213, 561), " 0.077", family=MONO, fontsize=7.2, va="center", color="#3a8ed0", zorder=10)

fig.savefig("out.png", dpi=100, facecolor="white")
